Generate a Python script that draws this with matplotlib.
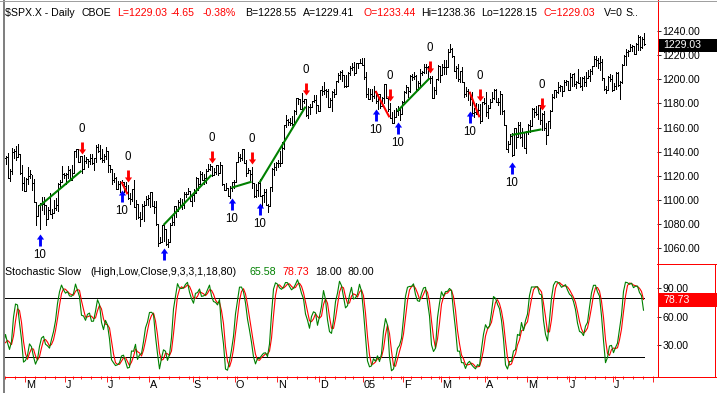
import numpy as np
import pandas as pd
import matplotlib
matplotlib.use("Agg")
import matplotlib.pyplot as plt
from matplotlib.path import Path
from matplotlib.markers import MarkerStyle
from matplotlib.lines import Line2D
from matplotlib.patches import Rectangle
import matplotlib.transforms as mtransforms

# ---------------- DATA (daily $SPX.X, 2004-03-31 .. 2005-07-25) ----------------
holidays = ['2004-04-09', '2004-05-31', '2004-06-11', '2004-07-05', '2004-09-06',
            '2004-11-25', '2004-12-24', '2005-01-17', '2005-02-21', '2005-03-25',
            '2005-05-30', '2005-07-04']

high = [
    1130.8,
    # Apr 2004
    1135.7, 1144.8, 1150.6, 1150.6, 1148.2, 1148.0, 1147.3, 1147.8, 1132.5, 1134.1, 1136.8,
    1136.2, 1139.3, 1125.7, 1142.8, 1141.9, 1145.1, 1146.6, 1138.1, 1128.8, 1119.3,
    # May 2004
    1118.2, 1127.7, 1125.1, 1120.8, 1117.3, 1098.6, 1095.7, 1097.6, 1102.8, 1102.1,
    1095.7, 1094.1, 1105.9, 1092.6, 1099.6, 1101.3, 1113.8, 1116.7, 1128.0, 1122.7,
    # Jun 2004
    1122.7, 1128.5, 1125.3, 1129.2, 1140.5, 1142.2, 1142.2, 1136.5, 1136.5, 1137.4, 1135.3,
    1133.6, 1138.1, 1138.0, 1135.1, 1145.2, 1146.3, 1145.2, 1142.6, 1138.3, 1144.2,
    # Jul 2004
    1140.8, 1129.2, 1125.4, 1122.4, 1119.1, 1115.6, 1116.1, 1116.7, 1114.6, 1114.6, 1112.2,
    1105.5, 1108.9, 1116.3, 1099.7, 1096.6, 1089.8, 1096.7, 1098.8, 1103.5, 1103.7,
    # Aug 2004
    1106.6, 1106.6, 1098.8, 1098.8, 1080.0, 1069.5, 1079.0, 1079.0, 1075.8, 1067.6, 1080.7,
    1086.8, 1095.2, 1095.2, 1100.3, 1101.4, 1100.9, 1106.3, 1106.3, 1109.7, 1107.8, 1104.2,
    # Sep 2004
    1109.2, 1119.1, 1117.8, 1124.1, 1123.1, 1121.3, 1125.3, 1129.8, 1129.5, 1128.3, 1126.1,
    1129.3, 1128.6, 1131.5, 1129.3, 1113.6, 1113.8, 1110.1, 1111.8, 1114.8, 1116.3,
    # Oct 2004
    1131.6, 1140.1, 1137.9, 1142.1, 1142.1, 1132.9, 1126.2, 1124.4, 1127.0, 1114.0, 1113.2,
    1114.5, 1117.3, 1104.1, 1108.9, 1108.8, 1096.8, 1111.1, 1126.3, 1130.7, 1131.4,
    # Nov 2004
    1133.4, 1140.5, 1147.6, 1161.7, 1170.0, 1166.8, 1168.0, 1169.3, 1174.8, 1184.2, 1184.5,
    1183.8, 1188.5, 1184.0, 1184.0, 1178.0, 1179.5, 1182.2, 1186.6, 1186.6, 1178.7,
    # Dec 2004
    1191.4, 1194.8, 1197.5, 1192.2, 1192.2, 1184.8, 1190.5, 1191.8, 1198.7, 1205.3, 1206.6,
    1207.9, 1203.2, 1203.4, 1205.9, 1211.4, 1213.7, 1214.1, 1213.6, 1213.5, 1216.5, 1217.9,
    # Jan 2005
    1217.8, 1205.8, 1192.7, 1191.6, 1192.2, 1194.8, 1190.3, 1187.9, 1187.8, 1185.2,
    1196.0, 1196.0, 1184.6, 1180.5, 1173.0, 1174.3, 1175.9, 1177.5, 1175.6, 1182.0,
    # Feb 2005
    1190.4, 1195.3, 1193.2, 1203.5, 1204.2, 1205.9, 1203.8, 1198.8, 1208.4, 1206.9,
    1212.4, 1212.4, 1211.3, 1202.9, 1202.4, 1193.5, 1200.4, 1212.0, 1211.4,
    # Mar 2005
    1212.3, 1215.7, 1215.7, 1224.8, 1229.1, 1225.7, 1219.4, 1211.2, 1213.0, 1206.8, 1210.5,
    1197.8, 1193.3, 1192.0, 1189.7, 1189.6, 1176.6, 1180.1, 1179.9, 1179.7, 1181.5, 1184.3,
    # Apr 2005
    1189.8, 1178.6, 1183.5, 1189.3, 1191.9, 1191.8, 1184.1, 1190.2, 1187.8, 1174.7, 1162.1,
    1148.9, 1154.7, 1155.3, 1159.4, 1160.0, 1164.8, 1164.8, 1159.9, 1156.4, 1157.0,
    # May 2005
    1162.9, 1166.0, 1176.0, 1176.0, 1177.8, 1178.9, 1178.8, 1171.8, 1173.4, 1163.8, 1165.8,
    1174.4, 1187.9, 1191.1, 1191.2, 1197.4, 1195.3, 1194.1, 1199.0, 1199.6, 1198.8,
    # Jun 2005
    1205.6, 1204.0, 1205.1, 1198.8, 1208.8, 1202.0, 1201.9, 1202.8, 1206.0, 1207.5, 1208.1,
    1211.0, 1219.6, 1219.1, 1218.0, 1219.6, 1216.5, 1200.7, 1194.3, 1202.5, 1204.1, 1203.3,
    # Jul 2005
    1197.2, 1205.9, 1206.1, 1198.5, 1212.7, 1220.0, 1225.2, 1224.5, 1229.6, 1228.0,
    1227.9, 1230.3, 1236.6, 1235.8, 1234.9, 1238.4,
]

low = [
    1121.5,
    # Apr 2004
    1126.2, 1132.2, 1141.6, 1143.3, 1138.4, 1134.5, 1139.3, 1127.7, 1122.2, 1120.8, 1126.9,
    1129.8, 1117.8, 1116.0, 1121.9, 1134.8, 1132.9, 1135.4, 1121.7, 1108.0, 1107.2,
    # May 2004
    1107.3, 1112.9, 1117.9, 1108.1, 1098.6, 1079.6, 1087.1, 1076.3, 1091.8, 1088.2,
    1079.4, 1084.1, 1088.5, 1085.4, 1089.2, 1091.8, 1090.7, 1109.9, 1114.9, 1118.1,
    # Jun 2004
    1113.3, 1118.3, 1116.6, 1116.6, 1122.5, 1135.5, 1131.2, 1131.3, 1122.2, 1125.3, 1130.5,
    1126.9, 1129.6, 1129.8, 1124.4, 1131.7, 1139.9, 1134.0, 1131.7, 1131.5, 1133.6,
    # Jul 2004
    1123.1, 1123.3, 1113.2, 1114.5, 1108.7, 1109.1, 1106.7, 1112.1, 1106.7, 1106.2, 1101.1,
    1096.6, 1099.1, 1093.9, 1084.2, 1084.8, 1078.8, 1084.1, 1082.2, 1095.4, 1096.0,
    # Aug 2004
    1093.8, 1094.8, 1089.2, 1079.6, 1062.2, 1064.0, 1065.2, 1065.9, 1062.8, 1060.7, 1064.8,
    1079.3, 1078.9, 1086.1, 1091.2, 1094.7, 1092.8, 1093.2, 1102.5, 1104.6, 1099.2, 1094.7,
    # Sep 2004
    1099.2, 1105.6, 1108.0, 1113.6, 1116.3, 1113.6, 1114.4, 1123.9, 1124.7, 1119.8, 1120.4,
    1121.3, 1120.3, 1122.2, 1112.7, 1108.1, 1108.4, 1103.2, 1101.3, 1107.4, 1109.7,
    # Oct 2004
    1114.6, 1131.5, 1132.0, 1132.9, 1130.5, 1120.2, 1122.1, 1115.8, 1109.6, 1102.1, 1102.1,
    1103.3, 1103.2, 1094.3, 1098.5, 1095.4, 1090.3, 1094.8, 1107.4, 1120.6, 1124.6,
    # Nov 2004
    1127.6, 1128.1, 1130.6, 1142.3, 1160.7, 1162.3, 1162.5, 1162.5, 1162.3, 1171.4, 1179.2,
    1175.3, 1175.4, 1180.1, 1169.2, 1167.9, 1171.4, 1176.9, 1181.1, 1172.4, 1173.8,
    # Dec 2004
    1173.8, 1186.7, 1187.7, 1185.2, 1177.1, 1177.1, 1173.8, 1185.2, 1188.0, 1197.8, 1200.2,
    1198.4, 1193.4, 1193.2, 1194.7, 1203.9, 1208.0, 1203.6, 1204.9, 1209.5, 1213.5, 1211.7,
    # Jan 2005
    1200.3, 1185.4, 1183.7, 1183.3, 1182.2, 1184.8, 1180.4, 1175.6, 1175.8, 1177.5,
    1180.1, 1184.4, 1173.4, 1167.8, 1163.8, 1163.8, 1168.4, 1170.2, 1166.3, 1171.4,
    # Feb 2005
    1180.9, 1188.9, 1185.6, 1189.7, 1199.3, 1200.2, 1191.5, 1191.5, 1193.3, 1203.6,
    1205.5, 1205.1, 1200.7, 1197.2, 1184.2, 1184.2, 1187.8, 1199.7, 1198.1,
    # Mar 2005
    1203.6, 1204.5, 1204.5, 1210.5, 1222.2, 1218.6, 1206.7, 1201.4, 1198.2, 1197.8, 1197.8,
    1185.6, 1186.3, 1182.8, 1178.8, 1171.6, 1168.7, 1171.4, 1171.4, 1163.7, 1165.4, 1179.5,
    # Apr 2005
    1169.9, 1167.7, 1176.1, 1181.4, 1183.4, 1180.9, 1178.7, 1170.9, 1171.6, 1161.7, 1141.9,
    1139.8, 1146.0, 1136.2, 1137.5, 1142.9, 1152.1, 1151.7, 1144.4, 1143.2, 1139.2,
    # May 2005
    1154.7, 1156.7, 1161.2, 1168.7, 1170.2, 1166.8, 1163.0, 1157.7, 1157.8, 1146.2, 1153.6,
    1159.9, 1173.8, 1184.5, 1185.2, 1188.8, 1189.9, 1186.0, 1190.0, 1195.3, 1191.5,
    # Jun 2005
    1191.5, 1194.8, 1194.7, 1192.8, 1197.3, 1193.3, 1191.1, 1194.3, 1194.1, 1200.8, 1198.7,
    1204.5, 1211.0, 1210.6, 1209.6, 1207.4, 1199.2, 1191.3, 1188.3, 1190.7, 1198.7, 1190.5,
    # Jul 2005
    1191.3, 1192.0, 1194.8, 1183.6, 1197.2, 1211.9, 1211.9, 1219.4, 1223.3, 1223.1,
    1221.0, 1221.1, 1224.0, 1224.5, 1225.9, 1228.2,
]

close = [
    1126.2,
    # Apr 2004
    1132.2, 1141.8, 1150.6, 1148.2, 1140.5, 1139.3, 1145.2, 1129.4, 1128.2, 1128.8, 1134.6,
    1135.8, 1118.0, 1124.1, 1139.9, 1140.6, 1135.5, 1138.1, 1122.4, 1113.9, 1107.3,
    # May 2004
    1117.5, 1119.6, 1121.5, 1113.9, 1098.7, 1087.1, 1095.5, 1097.3, 1096.4, 1095.7,
    1084.1, 1091.5, 1088.7, 1089.2, 1093.6, 1095.4, 1113.1, 1114.9, 1121.3, 1120.7,
    # Jun 2004
    1121.2, 1124.8, 1116.6, 1122.5, 1140.4, 1142.2, 1131.3, 1136.5, 1125.3, 1132.0, 1133.6,
    1132.1, 1135.0, 1130.3, 1134.4, 1144.1, 1140.7, 1134.4, 1133.0, 1136.2, 1140.8,
    # Jul 2004
    1128.9, 1125.4, 1116.2, 1118.3, 1109.1, 1112.8, 1114.9, 1115.1, 1111.5, 1106.7, 1101.4,
    1100.9, 1108.7, 1093.9, 1096.8, 1086.2, 1084.1, 1094.8, 1095.4, 1100.4, 1101.7,
    # Aug 2004
    1106.6, 1095.0, 1094.0, 1080.0, 1064.0, 1065.2, 1079.0, 1075.8, 1063.2, 1064.8, 1079.3,
    1081.7, 1095.2, 1091.2, 1098.4, 1095.7, 1096.2, 1104.9, 1105.1, 1107.8, 1099.2, 1104.2,
    # Sep 2004
    1105.9, 1118.3, 1113.6, 1121.3, 1116.3, 1118.4, 1123.9, 1125.8, 1128.3, 1120.4, 1123.5,
    1128.6, 1122.2, 1129.3, 1113.6, 1108.4, 1110.1, 1103.5, 1110.1, 1114.8, 1114.6,
    # Oct 2004
    1131.5, 1135.2, 1134.5, 1142.1, 1130.7, 1122.1, 1124.4, 1121.8, 1113.7, 1103.3, 1108.2,
    1114.0, 1103.2, 1103.7, 1106.5, 1095.7, 1094.8, 1111.1, 1125.4, 1127.4, 1130.2,
    # Nov 2004
    1130.5, 1130.6, 1143.2, 1161.7, 1166.2, 1164.9, 1164.1, 1162.9, 1173.5, 1184.2, 1183.8,
    1175.4, 1181.9, 1183.6, 1170.3, 1177.2, 1176.9, 1181.8, 1182.7, 1178.6, 1173.8,
    # Dec 2004
    1191.4, 1190.3, 1191.2, 1190.3, 1177.1, 1182.8, 1189.2, 1188.0, 1198.7, 1203.4, 1205.7,
    1203.2, 1194.2, 1194.7, 1205.5, 1209.6, 1210.1, 1204.9, 1213.5, 1213.5, 1213.6, 1211.9,
    # Jan 2005
    1202.1, 1188.1, 1183.7, 1187.9, 1186.2, 1190.3, 1182.3, 1187.7, 1177.5, 1184.5,
    1196.0, 1184.6, 1175.4, 1167.9, 1163.8, 1168.4, 1174.1, 1174.6, 1171.4, 1181.3,
    # Feb 2005
    1189.4, 1193.2, 1189.9, 1203.0, 1201.7, 1202.3, 1192.0, 1197.0, 1205.3, 1206.1,
    1210.1, 1210.3, 1200.8, 1201.2, 1184.2, 1190.8, 1200.2, 1211.4, 1203.6,
    # Mar 2005
    1210.4, 1210.1, 1210.5, 1222.2, 1225.3, 1219.4, 1207.0, 1209.3, 1200.1, 1206.8, 1197.8,
    1188.1, 1190.2, 1189.7, 1183.8, 1171.7, 1172.5, 1171.4, 1174.3, 1165.4, 1181.3, 1180.6,
    # Apr 2005
    1172.9, 1176.1, 1181.4, 1184.1, 1191.1, 1181.2, 1181.2, 1187.8, 1173.8, 1162.1, 1142.6,
    1146.0, 1152.8, 1137.5, 1160.0, 1152.1, 1162.1, 1151.8, 1156.4, 1143.2, 1156.9,
    # May 2005
    1162.2, 1161.2, 1175.7, 1172.6, 1171.4, 1178.8, 1166.2, 1171.1, 1159.4, 1154.1, 1165.7,
    1173.8, 1185.6, 1191.1, 1189.3, 1193.9, 1194.1, 1190.0, 1197.6, 1198.8, 1191.5,
    # Jun 2005
    1202.2, 1204.0, 1196.0, 1197.5, 1197.3, 1194.7, 1200.9, 1198.1, 1200.8, 1203.0, 1206.6,
    1211.0, 1217.0, 1216.1, 1213.6, 1213.9, 1200.7, 1191.6, 1190.7, 1201.6, 1199.9, 1191.3,
    # Jul 2005
    1194.4, 1205.0, 1194.9, 1197.9, 1211.9, 1219.4, 1222.2, 1223.3, 1226.5, 1227.9,
    1221.1, 1229.4, 1235.2, 1227.0, 1233.7, 1229.03,
]

# signal annotations (bar offset from 2004-04-19, arrow tip price)
buy_idx = [17, 58, 79, 113, 127, 185, 196, 232, 253]
buy_tip = [1071.8, 1108.2, 1060.2, 1101.6, 1097.5, 1175.4, 1164.6, 1173.7, 1131.4]
sell_idx = [38, 61, 103, 123, 150, 192, 212, 237, 268]
sell_tip = [1138.1, 1114.9, 1130.6, 1129.8, 1187.0, 1182.0, 1205.2, 1182.0, 1174.5]
buy_text = "10"
sell_text = "0"
seg_x0 = [17, 58, 79, 113, 127, 185, 196, 232, 253]
seg_y0 = [1095.0, 1115.1, 1079.2, 1110.1, 1114.3, 1190.3, 1173.7, 1189.7, 1153.8]
seg_x1 = [38, 61, 103, 123, 150, 192, 212, 237, 268]
seg_y1 = [1124.2, 1104.7, 1120.7, 1115.1, 1177.3, 1168.5, 1200.8, 1168.5, 1158.5]
seg_col = ['#008000', '#FF0000', '#008000', '#008000', '#008000', '#FF0000', '#008000', '#FF0000', '#008000']

price_ticks = [1060, 1080, 1100, 1120, 1140, 1160, 1180, 1200, 1220, 1240]
stoch_ticks = [30, 60, 90]
stoch_levels = [18, 80]
month_labels = ['M', 'J', 'J', 'A', 'S', 'O', 'N', 'D', '05', 'F', 'M', 'A', 'M', 'J', 'J']

# ---------------- PREP ----------------
high = np.array(high); low = np.array(low); close = np.array(close)
assert len(high) == len(low) == len(close), (len(high), len(low), len(close))
cal = pd.bdate_range('2004-03-31', '2005-09-30', freq='C', holidays=holidays)
n = len(close)
assert cal[n - 1] == pd.Timestamp('2005-07-25'), cal[n - 1]
first = int(np.where(cal == pd.Timestamp('2004-04-19'))[0][0])
pos_all = np.arange(len(cal)) - first
pos = pos_all[:n]

hh = pd.Series(high).rolling(9).max()
ll = pd.Series(low).rolling(9).min()
rawk = 100 * (pd.Series(close) - ll) / (hh - ll)
slowk = rawk.rolling(3).mean()
slowd = slowk.rolling(3).mean()

# ---------------- FIGURE ----------------
plt.rcParams['font.family'] = ['Liberation Sans', 'DejaVu Sans']
W, H = 717, 393
fig = plt.figure(figsize=(W / 100, H / 100), dpi=100)
fig.patch.set_facecolor('white')

def fx(p):
    return p / W

def fy(p):
    return 1 - p / H

XL = (-0.75, 325.75)
PX = 1.2067   # pixels per index point
P_TOP, P_BOT = 22, 263
axp = fig.add_axes([fx(4), fy(P_BOT), (657 - 4) / W, (P_BOT - P_TOP) / H])
axp.set_xlim(XL)
YL = (1240 - (P_BOT - 31) / PX, 1240 + (31 - P_TOP) / PX)
axp.set_ylim(YL)
for s in axp.spines.values():
    s.set_visible(False)
axp.xaxis.set_visible(False)
axp.yaxis.tick_right()
axp.set_yticks(price_ticks)
axp.set_yticklabels([f'{v:.2f}' for v in price_ticks])
axp.tick_params(axis='y', length=2.9, width=0.6, pad=1.2, labelsize=7.6, colors='black')

axp.vlines(pos, low, high, colors='black', lw=0.55, antialiased=False)
axp.hlines(close, pos, pos + 0.8, colors='black', lw=0.55, antialiased=False)

for x0, y0, x1, y1, c in zip(seg_x0, seg_y0, seg_x1, seg_y1, seg_col):
    axp.plot([x0, x1], [y0, y1], color=c, lw=1.5, solid_capstyle='butt', zorder=3)

up_path = Path([(0, 0), (0.3, -0.42), (0.12, -0.42), (0.12, -1), (-0.12, -1),
                (-0.12, -0.42), (-0.3, -0.42), (0, 0)],
               [Path.MOVETO] + [Path.LINETO] * 6 + [Path.CLOSEPOLY])
dn_path = Path([(x, -y) for x, y in up_path.vertices], up_path.codes)
axp.plot(buy_idx, buy_tip, ls='none', marker=MarkerStyle(up_path), ms=17.3,
         mfc='#0000FF', mec='#0000FF', mew=0, zorder=4)
axp.plot(sell_idx, sell_tip, ls='none', marker=MarkerStyle(dn_path), ms=17.3,
         mfc='#FF0000', mec='#FF0000', mew=0, zorder=4)
tr_below = mtransforms.offset_copy(axp.transData, fig=fig, x=0, y=-21, units='dots')
tr_above = mtransforms.offset_copy(axp.transData, fig=fig, x=0, y=25, units='dots')
for x, y in zip(buy_idx, buy_tip):
    if y - 27 / PX < YL[0]:
        continue   # label falls below the price pane (hidden in the original)
    axp.text(x, y, buy_text, transform=tr_below, ha='center', va='center',
             fontsize=8.3, color='black', clip_on=True)
for x, y in zip(sell_idx, sell_tip):
    axp.text(x, y, sell_text, transform=tr_above, ha='center', va='center',
             fontsize=8.3, color='black', clip_on=True)

# ---------------- STOCHASTIC PANEL ----------------
axs = fig.add_axes([fx(4), fy(376), (657 - 4) / W, (376 - 263) / H])
axs.set_xlim(XL)
SP = 0.952
axs.set_ylim(90 - (376 - 288) / SP, 90 + (288 - 263) / SP)
for s in axs.spines.values():
    s.set_visible(False)
axs.yaxis.tick_right()
axs.set_yticks(stoch_ticks)
axs.set_yticklabels([f'{v:.2f}' for v in stoch_ticks])
axs.tick_params(axis='y', length=2.9, width=0.6, pad=1.2, labelsize=7.6, colors='black')

axs.hlines(stoch_levels, XL[0], pos[-1], colors='black', lw=0.55, antialiased=False)
axs.plot(pos, slowd, color='#FF0000', lw=0.8, zorder=3)
axs.plot(pos, slowk, color='#008000', lw=0.8, zorder=4)

# x ticks (month / week)
ext = pos_all[pos_all <= XL[1]]
cal_ext = cal[:len(ext)]
month_start = [ext[i] - 0.5 for i in range(1, len(ext)) if cal_ext[i].month != cal_ext[i - 1].month and ext[i] > 0]
week_start = [ext[i] - 0.5 for i in range(1, len(ext))
              if cal_ext[i].isocalendar()[1] != cal_ext[i - 1].isocalendar()[1] and ext[i] >= 0]
week_start = [w for w in week_start if w not in month_start]
axs.set_xticks(month_start)
axs.set_xticks(week_start, minor=True)
axs.set_xticklabels([])
axs.tick_params(axis='x', which='major', length=4.2, width=0.6, colors='#FF0000', direction='out')
axs.tick_params(axis='x', which='minor', length=2.2, width=0.6, colors='#FF0000', direction='out')
xtr = axs.get_xaxis_transform()
for m, lab in zip(month_start, month_labels):
    axs.text(m + 0.6, -9.5 / 113, lab, transform=xtr, ha='left', va='center',
             fontsize=7.8, color='black')

# ---------------- FRAME LINES ----------------
def fline(xs, ys, color, lw=0.5, **kw):
    fig.add_artist(Line2D([fx(v) for v in xs], [fy(v) for v in ys], color=color, lw=lw,
                          transform=fig.transFigure, antialiased=False, **kw))

fline([657.5, 657.5], [0, 376.5], '#FF0000')
fline([657, 717], [263.5, 263.5], '#FF0000')
fline([714.5, 714.5], [263.5, 376.5], '#FF0000')
fline([4, 717], [376.5, 376.5], '#FF0000')
fline([3.5, 3.5], [0, 393], '#808080', lw=1.2)
fline([0, 717], [1, 1], '#A0A0A0', lw=0.5, ls=(0, (1, 1)))

# ---------------- HEADER TEXT ----------------
hdr = [("$SPX.X - Daily", 4.6, 'black'), ("CBOE", 82, 'black'), ("L=1229.03", 117, '#FF0000'),
       ("-4.65", 171, '#FF0000'), ("-0.38%", 203, '#FF0000'), ("B=1228.55", 245, 'black'),
       ("A=1229.41", 303, 'black'), ("O=1233.44", 363, '#FF0000'), ("Hi=1238.36", 421, 'black'),
       ("Lo=1228.15", 481, 'black'), ("C=1229.03", 544, '#FF0000'), ("V=0", 604, 'black'),
       ("S..", 625, 'black')]
for t, x, c in hdr:
    fig.text(fx(x), fy(12.5), t, ha='left', va='center', fontsize=7.6, color=c)

sh = [("Stochastic Slow", 5, 'black'), ("(High,Low,Close,9,3,3,1,18,80)", 90, 'black'),
      ("65.58", 249, '#008000'), ("78.73", 282, '#FF0000'), ("18.00", 315, 'black'),
      ("80.00", 348, 'black')]
for t, x, c in sh:
    fig.text(fx(x), fy(272), t, ha='left', va='center', fontsize=7.7, color=c)

# ---------------- LAST VALUE BOXES ----------------
fig.add_artist(Rectangle((fx(659), fy(52)), (717 - 659) / W, 13 / H, transform=fig.transFigure,
                         facecolor='black', edgecolor='none', zorder=10))
fig.text(fx(663), fy(45.5), "1229.03", ha='left', va='center', fontsize=7.6, color='white', zorder=11)
fig.add_artist(Rectangle((fx(658), fy(307)), (717 - 658) / W, 14 / H, transform=fig.transFigure,
                         facecolor='#FF0000', edgecolor='none', zorder=10))
fig.text(fx(663), fy(300), "78.73", ha='left', va='center', fontsize=7.6, color='white', zorder=11)

fig.savefig('out.png', dpi=100)
